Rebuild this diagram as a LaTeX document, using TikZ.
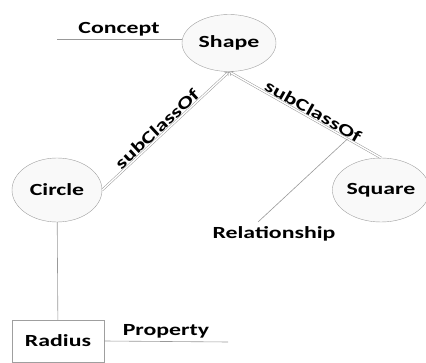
\documentclass[tikz,border=0pt]{standalone}
\usepackage{fontspec}
\setmainfont[FakeStretch=1.4]{Carlito}
\usepackage{tikz}
\usetikzlibrary{
  arrows.meta,%
  shapes.geometric,%
  positioning
}
\tikzset{>=latex}
\tikzset{font=\fontsize{17}{20}\selectfont\bfseries}
\tikzset{concept/.style={ellipse, draw=gray!75, fill=gray!5, inner sep=0pt},
  thing/.style={rectangle, draw=gray!75, inner sep=0pt},
  isa/.style={draw=gray!80, line width=0.5pt, double=white, double distance=1.4pt},
  lbl/.style={inner sep=1pt},
  guide/.style={draw=gray!80, line width=0.6pt}}

\begin{document}
\begin{tikzpicture}[x=1pt, y=-1pt]
          \useasboundingbox (0,0) rectangle (426,363);
          % classes
          \node[concept, minimum width=94pt, minimum height=57pt] (shape) at (229,43) {Shape};
          \node[concept, minimum width=90pt, minimum height=64pt] (circ) at (57,190) {Circle};
          \node[concept, minimum width=88pt, minimum height=64pt] (sq) at (381,190) {Square};
          \node[thing, minimum width=92pt, minimum height=42pt] (radius) at (58,341) {Radius};
          % subclass links
          \draw[isa, -{Implies[length=3pt]}] (circ.east) -- node[lbl, sloped, above, pos=0.47] {subClassOf} (shape.south);
          \draw[isa, {Implies[length=3pt]}-] (shape.south) -- node[lbl, sloped, above, pos=0.53] {subClassOf}
            coordinate[pos=0.78] (relfoot) (sq.north);
          \draw[guide] (circ) -- (radius);
          % callouts
          \coordinate (cptend) at (57,39);
          \coordinate (relend) at (258,222);
          \coordinate (propend) at (228,342);
          \draw[guide] (cptend) -- (cptend -| shape.west);
          \node[lbl] (cpt) at (119,29) {Concept};
          \draw[guide] (relfoot) -- (relend);
          \node[lbl] (rel) at (274,234) {Relationship};
          \draw[guide] (radius.east) -- (propend);
          \node[lbl] (prop) at (166,331) {Property};
        \end{tikzpicture}
\end{document}
